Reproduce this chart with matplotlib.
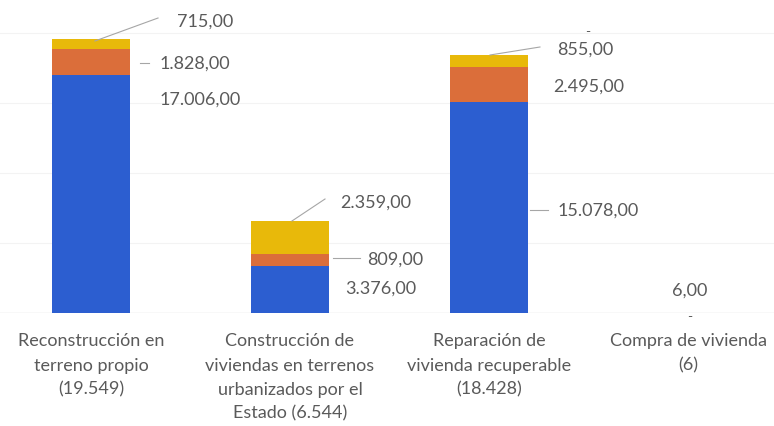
import matplotlib
matplotlib.use("Agg")
import matplotlib.pyplot as plt

categories = [
    "Reconstrucción en\nterreno propio\n(19.549)",
    "Construcción de\nviviendas en terrenos\nurbanizados por el\nEstado (6.544)",
    "Reparación de\nvivienda recuperable\n(18.428)",
    "Compra de vivienda\n(6)",
]
blue_vals = [17006, 3376, 15078, 6]
orange_vals = [1828, 809, 2495, 0]
yellow_vals = [715, 2359, 855, 0]

blue_c = "#2C5ED0"
orange_c = "#DB6E3A"
yellow_c = "#E8B90A"
text_c = "#5a5a5a"

plt.rcParams["font.family"] = ["Lato", "DejaVu Sans"]

fig = plt.figure(figsize=(7.74, 4.27), dpi=100)
ax = fig.add_axes([0, 113 / 427, 1, 314 / 427])

x = list(range(len(categories)))
w = 0.39
ax.bar(x, blue_vals, w, color=blue_c, zorder=3)
bottom2 = [b for b in blue_vals]
ax.bar(x, orange_vals, w, bottom=bottom2, color=orange_c, zorder=3)
bottom3 = [b + o for b, o in zip(blue_vals, orange_vals)]
ax.bar(x, yellow_vals, w, bottom=bottom3, color=yellow_c, zorder=3)

ax.set_xlim(-0.457, 3.432)
ax.set_ylim(0, 22404)
for yv in [5000, 10000, 15000, 20000]:
    ax.axhline(yv, color="#f3f3f3", lw=0.8, zorder=1)
ax.axhline(0, color="#e0e0e0", lw=1.0, zorder=2)
for s in ax.spines.values():
    s.set_visible(False)
ax.set_yticks([])
ax.set_xticks(x)
ax.set_xticklabels(categories, fontsize=13, color=text_c, linespacing=1.62)
ax.tick_params(axis="x", length=0, pad=14)

def fmt(v):
    s = f"{v:,.2f}"
    return s.replace(",", "X").replace(".", ",").replace("X", ".")

# label positions (x, y) in data coordinates, left aligned
label_pos = [
    [(0.347, 15269), (0.347, 17838), (0.432, 20834)],
    [(1.276, 1784), (1.387, 3853), (1.251, 7920)],
    [(2.342, 7349), (2.322, 16196), (2.342, 18836)],
]
series = [blue_vals, orange_vals, yellow_vals]
for i in range(3):
    for j in range(3):
        px, py = label_pos[i][j]
        ax.text(px, py, fmt(series[j][i]), fontsize=13, color=text_c,
                ha="left", va="center", zorder=5)
ax.text(3.01, 1641, fmt(blue_vals[3]), fontsize=13, color=text_c,
        ha="center", va="center", zorder=5)
ax.text(3.01, -200, "-", fontsize=10, color=text_c, ha="center", va="center", clip_on=False)
ax.text(2.497, 20121, "-", fontsize=10, color=text_c, ha="center", va="center")

leaders = [
    ((0.02, 19407), (0.337, 21048)),
    ((0.246, 17838), (0.291, 17838)),
    ((1.010, 6564), (1.176, 8134)),
    ((1.216, 3924), (1.352, 3924)),
    ((2.005, 18408), (2.256, 18979)),
    ((2.206, 7349), (2.296, 7349)),
]
for (x0, y0), (x1, y1) in leaders:
    ax.plot([x0, x1], [y0, y1], color="#a6a6a6", lw=0.8, zorder=4)

fig.savefig("out.png", dpi=100)
